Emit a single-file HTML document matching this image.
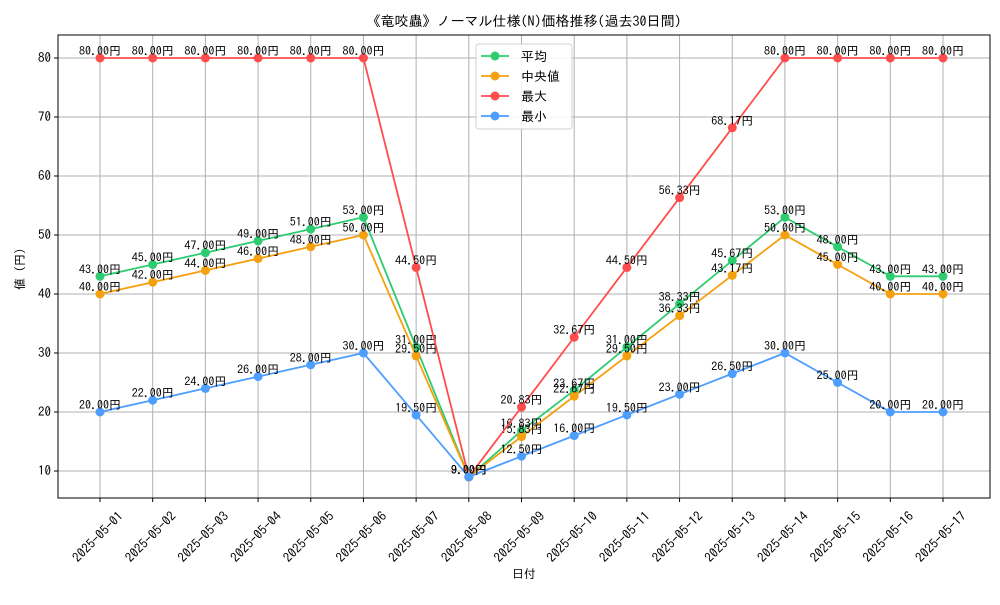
<!DOCTYPE html>
<html><head><meta charset="utf-8"><style>
body{margin:0;background:#fff}
svg text{font-family:"IPAGothic","Noto Sans CJK JP",sans-serif;fill:#000}
</style></head><body>
<svg id="c" width="1000" height="600" xmlns="http://www.w3.org/2000/svg"></svg>
<script>
const categories=["2025-05-01","2025-05-02","2025-05-03","2025-05-04","2025-05-05","2025-05-06","2025-05-07","2025-05-08","2025-05-09","2025-05-10","2025-05-11","2025-05-12","2025-05-13","2025-05-14","2025-05-15","2025-05-16","2025-05-17"];
const avgValues=[43,45,47,49,51,53,31,9,16.83,23.67,31,38.33,45.67,53,48,43,43];
const medianValues=[40,42,44,46,48,50,29.5,9,15.83,22.67,29.5,36.33,43.17,50,45,40,40];
const maxValues=[80,80,80,80,80,80,44.5,9,20.83,32.67,44.5,56.33,68.17,80,80,80,80];
const minValues=[20,22,24,26,28,30,19.5,9,12.5,16,19.5,23,26.5,30,25,20,20];
const yTicks=[10,20,30,40,50,60,70,80];
const seriesNames=["平均","中央値","最大","最小"];
const seriesColors=["#2ecc71","#f5a00f","#ff4d4d","#4d9eff"];
const seriesData=[avgValues,medianValues,maxValues,minValues];

const svg=document.getElementById('c');
const NS="http://www.w3.org/2000/svg";
function mk(tag,attrs,parent){const e=document.createElementNS(NS,tag);for(const k in attrs)e.setAttribute(k,attrs[k]);(parent||svg).appendChild(e);return e;}
const L=58,R=990,T=35,B=498;
const x=i=>100+i*(943-100)/(categories.length-1);
const y=v=>471-(v-10)*(413/70);

const grid=mk('g',{});


categories.forEach((c,i)=>{mk('line',{x1:x(i),x2:x(i),y1:T,y2:B,stroke:'#b0b0b0','stroke-width':1},grid);});
yTicks.forEach(v=>{mk('line',{x1:L,x2:R,y1:y(v),y2:y(v),stroke:'#b0b0b0','stroke-width':1},grid);});

const frame=mk('rect',{x:L,y:T,width:R-L,height:B-T,fill:'none',stroke:'#000','stroke-width':1});



const xt=mk('g',{});


categories.forEach((c,i)=>{
  mk('line',{x1:x(i),x2:x(i),y1:B,y2:B+4,stroke:'#000'},xt);
  const ax=x(i)+24, ay=B+19;
  const t=mk('text',{x:ax,y:ay,'font-size':13,'text-anchor':'end',transform:`rotate(-45 ${ax} ${ay})`},xt);
  t.textContent=c;
});
const yt=mk('g',{});


yTicks.forEach(v=>{
  mk('line',{x1:L-4,x2:L,y1:y(v),y2:y(v),stroke:'#000'},yt);
  const t=mk('text',{x:L-7,y:y(v)+4,'font-size':13,'text-anchor':'end'},yt);
  t.textContent=v;
});

seriesData.forEach((d,s)=>{
  const g=mk('g',{});
  
  
  mk('polyline',{points:d.map((v,i)=>x(i)+','+y(v)).join(' '),fill:'none',stroke:seriesColors[s],'stroke-width':1.8},g);
  d.forEach((v,i)=>{
    const p=mk('circle',{cx:x(i),cy:y(v),r:4.5,fill:seriesColors[s]},g);
    
    
    const t=mk('text',{x:x(i),y:y(v)-3,'font-size':12,'text-anchor':'middle'},g);
    t.textContent=v.toFixed(2)+'円';
  });
});

const lg=mk('g',{});


mk('rect',{x:476,y:44,width:96,height:85,rx:3,fill:'#fff','fill-opacity':0.85,stroke:'#d0d0d0'},lg);
seriesNames.forEach((n,s)=>{
  const yy=56+s*20;
  const e=mk('g',{},lg);
  
  
  mk('line',{x1:481,x2:509,y1:yy,y2:yy,stroke:seriesColors[s],'stroke-width':1.8},e);
  mk('circle',{cx:495,cy:yy,r:4.5,fill:seriesColors[s]},e);
  const t=mk('text',{x:521,y:yy+5,'font-size':13},e);t.textContent=n;
});

const tt=mk('text',{x:524,y:26,'font-size':14,'text-anchor':'middle'});
tt.textContent='《竜咬蟲》ノーマル仕様(N)価格推移(過去30日間)';

const xl=mk('text',{x:524,y:578,'font-size':12,'text-anchor':'middle'});
xl.textContent='日付';

const yl=mk('text',{x:24,y:266,'font-size':12,'text-anchor':'middle',transform:'rotate(-90 24 266)'});
yl.textContent='値（円）';

</script>
</body></html>
